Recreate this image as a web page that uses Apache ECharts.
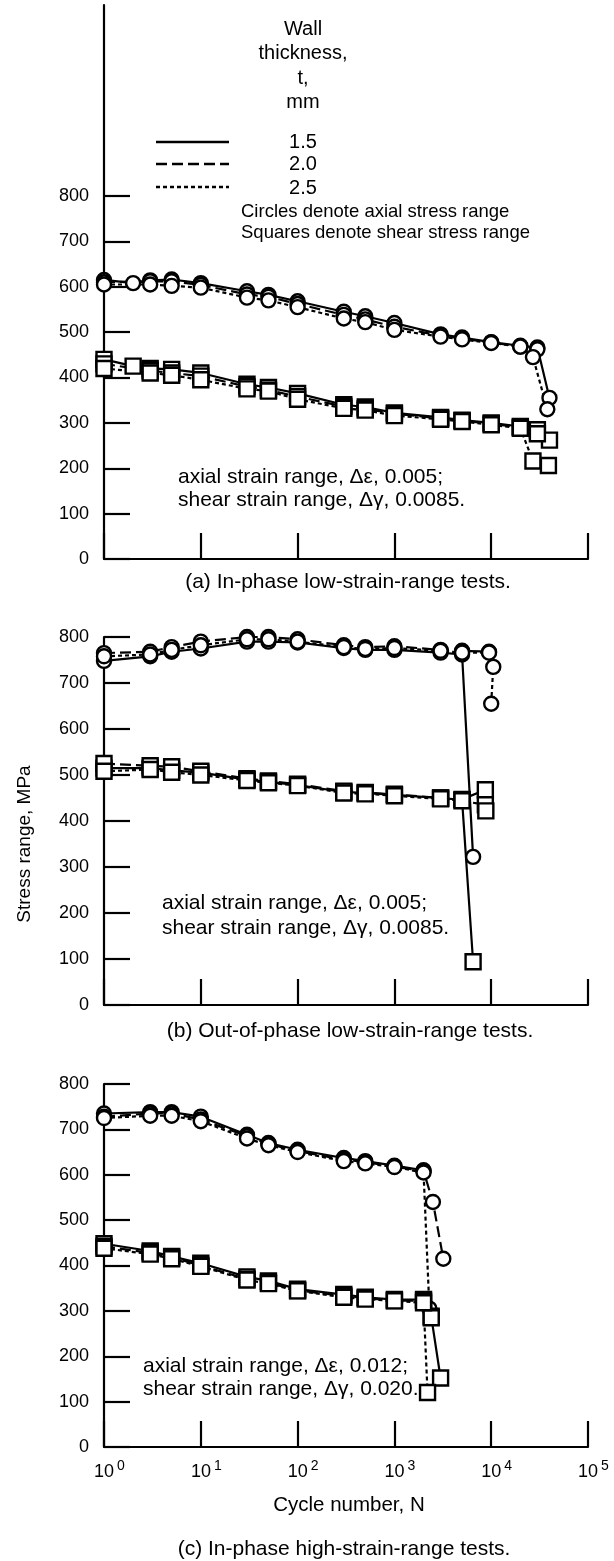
<!DOCTYPE html>
<html><head><meta charset="utf-8">
<script src="https://cdn.jsdelivr.net/npm/echarts@6/dist/echarts.min.js"></script>
<style>html,body{margin:0;padding:0;background:#fff}#c{width:614px;height:1561px}</style>
</head><body><div id="c"></div><script>
// ---------- DATA ----------
const yTicks = [0,100,200,300,400,500,600,700,800];

// Panel (a) in-phase low strain range
const aAx15N = [1,2,3,5,10,30,50,100,300,500,1000,3000,5000,10000,20000,30000,40000];
const aAx15V = [615,608,614,616,608,590,582,568,545,535,520,495,488,478,470,466,355];
const aAx20N = [1,3,5,10,30,50,100,300,500,1000,3000,5000,10000,20000,30000];
const aAx20V = [610,612,612,604,583,578,562,538,528,512,492,486,477,468,462];
const aAx25N = [1,3,5,10,30,50,100,300,500,1000,3000,5000,10000,20000,27000,38000];
const aAx25V = [605,605,602,598,576,570,555,530,522,505,490,484,476,468,445,330];
const aSh15N = [1,2,3,5,10,30,50,100,300,500,1000,3000,5000,10000,20000,30000,40000];
const aSh15V = [440,425,420,418,410,385,378,365,340,335,322,312,306,300,292,285,262];
const aSh20N = [1,3,5,10,30,50,100,300,500,1000,3000,5000,10000,20000,30000];
const aSh20V = [430,415,410,403,380,372,358,336,331,320,310,305,298,290,276];
const aSh25N = [1,3,5,10,30,50,100,300,500,1000,3000,5000,10000,20000,27000,39000];
const aSh25V = [420,410,405,395,375,370,352,332,328,316,308,303,296,288,216,206];

// Panel (b) out-of-phase low strain range
const bAx15N = [1,3,5,10,30,50,100,300,500,1000,3000,5000,6500];
const bAx15V = [748,758,768,775,790,790,788,776,772,772,766,762,322];
const bAx20N = [1,3,5,10,30,50,100,300,500,1000,3000,5000,9500];
const bAx20V = [765,768,778,790,800,800,795,782,778,780,772,770,768];
const bAx25N = [1,3,5,10,30,50,100,300,500,1000,3000,5000,9500,10500,10000];
const bAx25V = [758,762,772,782,795,795,790,778,774,776,770,766,766,735,655];
const bSh15N = [1,3,5,10,30,50,100,300,500,1000,3000,5000,6500];
const bSh15V = [515,515,510,505,490,485,478,463,461,457,450,446,94];
const bSh20N = [1,3,5,10,30,50,100,300,500,1000,3000,5000,8700];
const bSh20V = [525,520,518,508,492,487,480,465,462,458,450,447,468];
const bSh25N = [1,3,5,10,30,50,100,300,500,1000,3000,5000,8700,8800];
const bSh25V = [508,512,506,500,488,483,477,461,459,455,448,444,435,422];

// Panel (c) in-phase high strain range
const cAx15N = [1,3,5,10,30,50,100,300,500,1000,2000];
const cAx15V = [735,738,738,728,688,670,655,637,630,620,610];
const cAx20N = [1,3,5,10,30,50,100,300,500,1000,2000,2500,3200];
const cAx20V = [728,735,735,722,685,668,652,633,628,618,608,540,415];
const cAx25N = [1,3,5,10,30,50,100,300,500,1000,2000,2300];
const cAx25V = [725,730,730,718,680,665,650,630,625,617,605,305];
const cSh15N = [1,3,5,10,30,50,100,300,500,1000,2000,2400,3000];
const cSh15V = [448,432,420,405,375,366,348,336,330,325,325,288,152];
const cSh20N = [1,3,5,10,30,50,100,300,500,1000,2000,2400];
const cSh20V = [442,428,418,400,370,362,345,333,328,323,322,285];
const cSh25N = [1,3,5,10,30,50,100,300,500,1000,2000,2200];
const cSh25V = [438,425,415,398,368,360,344,330,326,322,318,120];

// ---------- CHART ----------
const FONT = '"Liberation Sans", Arial, Helvetica, sans-serif';
const chart = echarts.init(document.getElementById('c'), null, {renderer:'canvas'});
const zip = (n,v) => n.map((x,i)=>[x,v[i]]);
const styles = {'1.5':'solid','2.0':[11,5],'2.5':[4,3]};

const grids = [
  {left:104, width:484, top:5, height:554},
  {left:104, width:484, top:637, height:368},
  {left:104, width:484, top:1084, height:363}
];
const yMax = [554/0.45375, 800, 800];

function xAxis(i){
  return {
    type:'log', logBase:10, min:1, max:100000, gridIndex:i,
    axisLine:{lineStyle:{color:'#000', width:2.2}},
    axisTick:{inside:true, length:26, lineStyle:{color:'#000', width:2.2}},
    minorTick:{show:false}, splitLine:{show:false},
    axisLabel: i===2 ? {
      show:true, margin:12, color:'#000', fontFamily:FONT, fontSize:18,
      formatter:(v)=>'{p|}10{s|'+Math.round(Math.log10(v))+'}',
      rich:{
        p:{width:11},
        s:{fontSize:14, fontFamily:FONT, color:'#000', padding:[0,0,12,3]}
      }
    } : {show:false}
  };
}
function yAxis(i){
  return {
    type:'value', min:0, max:yMax[i], gridIndex:i,
    axisLine:{show:true, lineStyle:{color:'#000', width:2.2}},
    axisTick:{show:true, inside:true, length:26, customValues:yTicks, lineStyle:{color:'#000', width:2.2}},
    axisLabel:{show:true, customValues:yTicks, margin:15, color:'#000', fontFamily:FONT, fontSize:18},
    splitLine:{show:false}
  };
}

function ser(i, n, v, t, sym){
  return {
    type:'line', xAxisIndex:i, yAxisIndex:i, data:zip(n,v),
    symbol: sym, symbolSize: sym==='circle'?14:15,
    showAllSymbol:true,
    lineStyle:{color:'#000', width:2.2, type:styles[t]},
    itemStyle:{color:'#fff', borderColor:'#000', borderWidth:2.4},
    animation:false, z:3
  };
}

const series = [
  ser(0,aAx15N,aAx15V,'1.5','circle'), ser(0,aAx20N,aAx20V,'2.0','circle'), ser(0,aAx25N,aAx25V,'2.5','circle'),
  ser(0,aSh15N,aSh15V,'1.5','rect'), ser(0,aSh20N,aSh20V,'2.0','rect'), ser(0,aSh25N,aSh25V,'2.5','rect'),
  ser(1,bAx15N,bAx15V,'1.5','circle'), ser(1,bAx20N,bAx20V,'2.0','circle'), ser(1,bAx25N,bAx25V,'2.5','circle'),
  ser(1,bSh15N,bSh15V,'1.5','rect'), ser(1,bSh20N,bSh20V,'2.0','rect'), ser(1,bSh25N,bSh25V,'2.5','rect'),
  ser(2,cAx15N,cAx15V,'1.5','circle'), ser(2,cAx20N,cAx20V,'2.0','circle'), ser(2,cAx25N,cAx25V,'2.5','circle'),
  ser(2,cSh15N,cSh15V,'1.5','rect'), ser(2,cSh20N,cSh20V,'2.0','rect'), ser(2,cSh25N,cSh25V,'2.5','rect')
];

function txt(x,y,s,size,align,rot){
  return {type:'text', x:x, y:y, rotation:rot||0, style:{text:s, fill:'#000', font:(size||20)+'px '+FONT, textAlign:align||'center', textVerticalAlign:'middle'}, z:10};
}
function seg(x1,x2,y,dash){
  return {type:'line', shape:{x1:x1,y1:y,x2:x2,y2:y}, style:{stroke:'#000', lineWidth:2.4, lineDash:dash}, z:10};
}

const graphic = [
  txt(303,29,'Wall',20), txt(303,53,'thickness,',20), txt(303,78,'t,',20), txt(303,102,'mm',20),
  seg(156,229,142,null), txt(303,142,'1.5',20),
  seg(156,229,164,[11,5]), txt(303,164,'2.0',20),
  seg(156,229,187,[4,3]), txt(303,188,'2.5',20),
  txt(241,212,'Circles denote axial stress range',18.5,'left'),
  txt(241,233,'Squares denote shear stress range',18.5,'left'),
  txt(178,477,'axial strain range, \u0394\u03b5, 0.005;',21,'left'),
  txt(178,500,'shear strain range, \u0394\u03b3, 0.0085.',21,'left'),
  txt(348,582,'(a) In-phase low-strain-range tests.',21),
  txt(162,903,'axial strain range, \u0394\u03b5, 0.005;',21,'left'),
  txt(162,928,'shear strain range, \u0394\u03b3, 0.0085.',21,'left'),
  txt(350,1031,'(b) Out-of-phase low-strain-range tests.',21),
  txt(25,844,'Stress range, MPa',19,'center',Math.PI/2),
  txt(143,1366,'axial strain range, \u0394\u03b5, 0.012;',21,'left'),
  txt(143,1389,'shear strain range, \u0394\u03b3, 0.020.',21,'left'),
  txt(349,1505,'Cycle number, N',20.5),
  txt(344,1549,'(c) In-phase high-strain-range tests.',21)
];

chart.setOption({
  backgroundColor:'#fff',
  animation:false,
  grid:grids,
  xAxis:[xAxis(0),xAxis(1),xAxis(2)],
  yAxis:[yAxis(0),yAxis(1),yAxis(2)],
  series:series,
  graphic:graphic
});
</script></body></html>
